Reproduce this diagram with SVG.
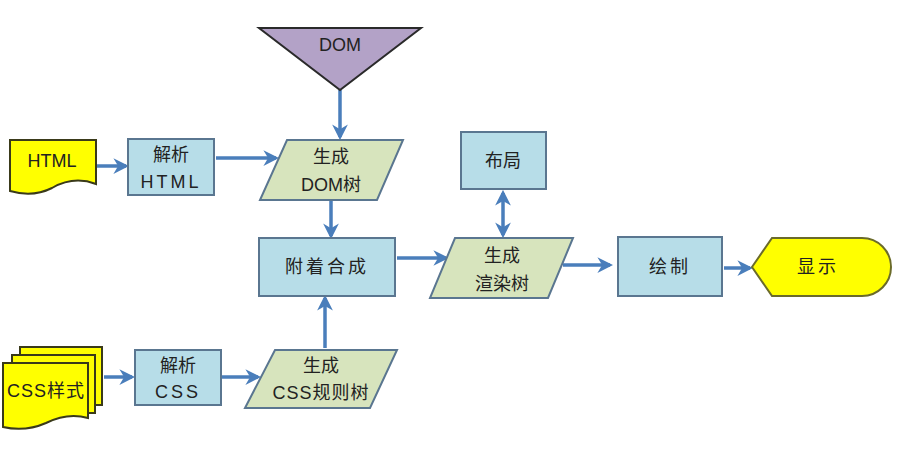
<svg xmlns="http://www.w3.org/2000/svg" width="899" height="450" viewBox="0 0 899 450">
<defs>
<marker id="ah" viewBox="0 0 10 10" refX="8" refY="5" markerWidth="4.5" markerHeight="4.5" orient="auto-start-reverse" markerUnits="strokeWidth">
<path d="M0,0 L10,5 L0,10 L3,5 z" fill="#4A7EBB"/>
</marker>
</defs>
<style>
text{font-family:"Liberation Sans","Noto Sans CJK SC",sans-serif;font-size:18px;fill:#222;text-anchor:middle;}
.box{fill:#B7DDE8;stroke:#5A7690;stroke-width:2;}
.para{fill:#D7E4BD;stroke:#5A7690;stroke-width:2;}
.doc{fill:#FFFF00;stroke:#3A3A1A;stroke-width:2;}
.cn{stroke:#4A7EBB;stroke-width:3.5;fill:none;marker-end:url(#ah);}
.sp{letter-spacing:3px;}
</style>
<rect width="899" height="450" fill="#fff"/>
<g id="connectors">
<line class="cn" x1="340" y1="90" x2="340" y2="137"/>
<line class="cn" x1="97" y1="166" x2="126" y2="166"/>
<line class="cn" x1="216" y1="158" x2="276" y2="158"/>
<line class="cn" x1="331" y1="200" x2="331" y2="236"/>
<line class="cn" x1="325" y1="348" x2="325" y2="298"/>
<line class="cn" x1="104" y1="377" x2="132" y2="377"/>
<line class="cn" x1="222" y1="377" x2="258" y2="377"/>
<line class="cn" x1="397" y1="258" x2="446" y2="258"/>
<line class="cn" x1="503" y1="193" x2="503" y2="235" style="marker-start:url(#ah)"/>
<line class="cn" x1="563" y1="265" x2="610" y2="265"/>
<line class="cn" x1="724" y1="268" x2="750" y2="268"/>
</g>
<g id="dom">
<polygon points="259,28 421,28 340,90" fill="#B3A2C7" stroke="#2A2A2A" stroke-width="2"/>
<text x="340" y="51">DOM</text>
</g>
<g id="html">
<path class="doc" d="M10,140 L96,140 L96,184 C80,178 66,180 52,188 C38,195 24,195 10,191 Z"/>
<text x="52" y="167">HTML</text>
</g>
<g id="parse-html">
<rect class="box" x="128" y="139" width="86" height="56"/>
<text x="171" y="161">解析</text>
<text x="171" y="188" class="sp">HTML</text>
</g>
<g id="gen-dom">
<polygon class="para" points="287,140 403,140 377,200 260,200"/>
<text x="331" y="163">生成</text>
<text x="331" y="191">DOM树</text>
</g>
<g id="attach">
<rect class="box" x="259" y="238" width="136" height="58"/>
<text x="327" y="273" class="sp">附着合成</text>
</g>
<g id="css">
<path class="doc" d="M20,347 L102,347 L102,405 L95,405 L95,355 L20,355 Z"/>
<path class="doc" d="M12,355 L95,355 L95,413 L88,413 L88,363 L12,363 Z"/>
<path class="doc" d="M3,363 L88,363 L88,418 C74,414 60,416 46,423 C30,430 16,430 3,427 Z"/>
<text x="46" y="397" style="letter-spacing:1px">CSS样式</text>
</g>
<g id="parse-css">
<rect class="box" x="135" y="350" width="86" height="55"/>
<text x="178" y="372">解析</text>
<text x="178" y="398" class="sp">CSS</text>
</g>
<g id="gen-css">
<polygon class="para" points="275,350 397,350 370,408 245,408"/>
<text x="321" y="372">生成</text>
<text x="321" y="399" style="letter-spacing:1px">CSS规则树</text>
</g>
<g id="layout">
<rect class="box" x="461" y="132" width="85" height="57"/>
<text x="503" y="167">布局</text>
</g>
<g id="gen-render">
<polygon class="para" points="455,238 573,238 548,298 430,298"/>
<text x="502" y="262">生成</text>
<text x="502" y="290">渲染树</text>
</g>
<g id="paint">
<rect class="box" x="618" y="237" width="104" height="59"/>
<text x="670" y="273" class="sp">绘制</text>
</g>
<g id="display">
<path d="M752,267 L772,238 L862,238 A29,29 0 0 1 862,296 L772,296 Z" fill="#FFFF00" stroke="#6B6B2A" stroke-width="2"/>
<text x="818" y="273" class="sp">显示</text>
</g>
</svg>
